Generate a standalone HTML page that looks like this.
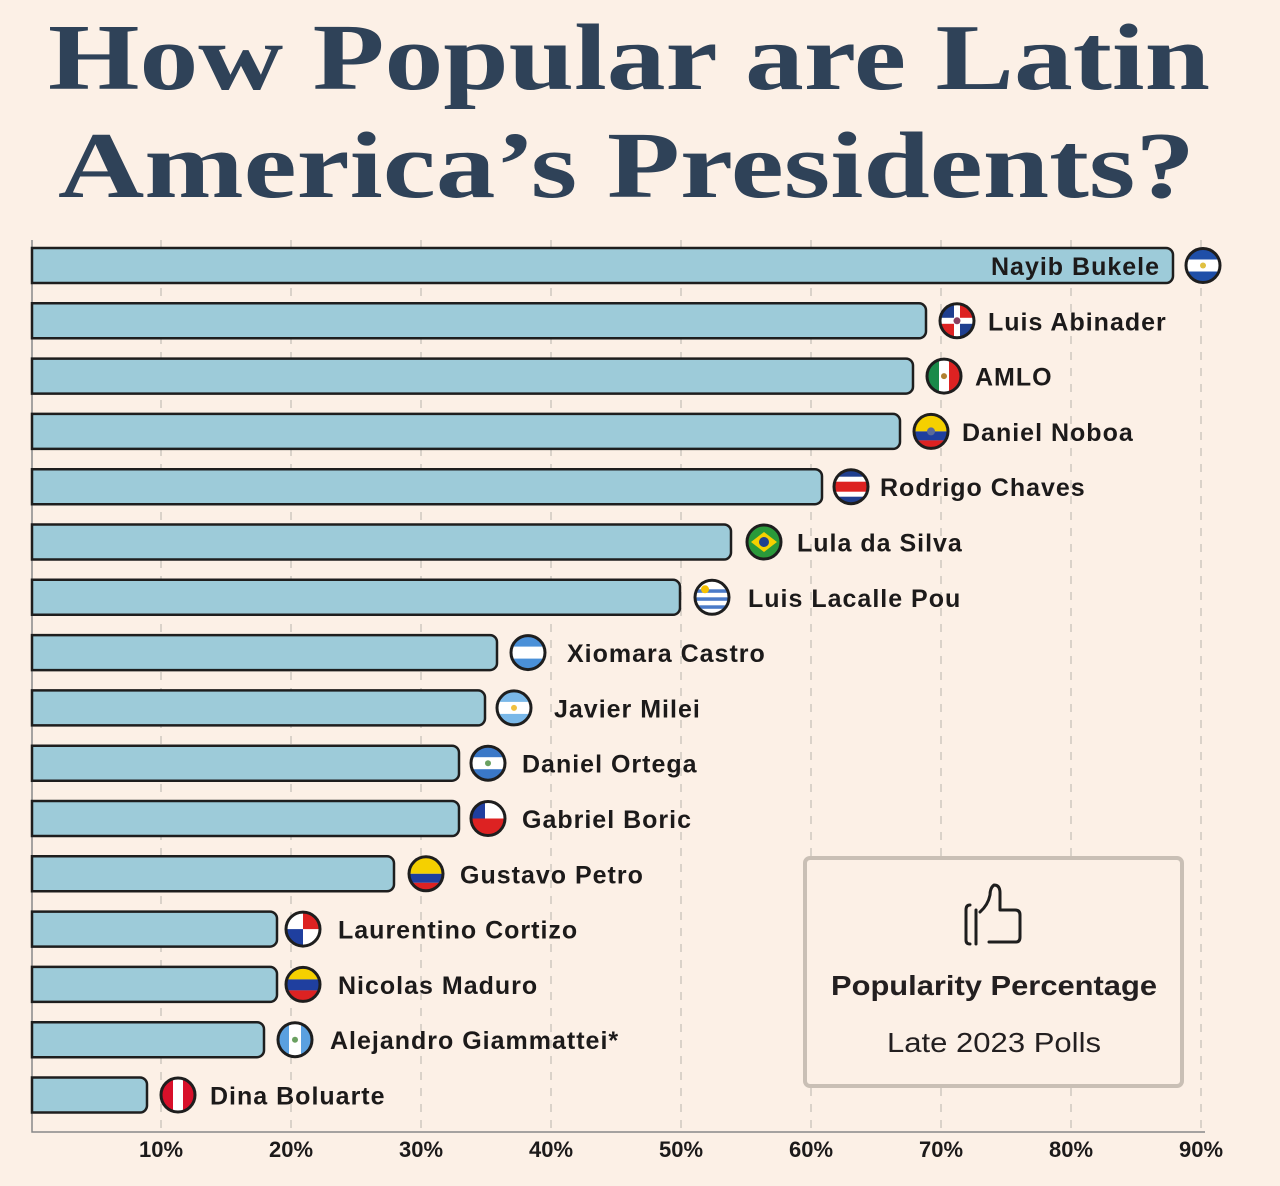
<!DOCTYPE html>
<html><head><meta charset="utf-8"><style>
html,body{margin:0;padding:0;background:#fcf0e6;}
svg{display:block;}
.t{font-family:"Liberation Serif",serif;font-weight:bold;fill:#2f4258;font-size:94px;}
.l{font-family:"Liberation Sans",sans-serif;font-weight:bold;fill:#1c1a1a;font-size:25px;letter-spacing:1px;}
.a{font-family:"Liberation Sans",sans-serif;font-weight:bold;fill:#1c1a1a;font-size:22px;text-anchor:middle;}
.b{fill:#9dcbd9;stroke:#1e1e1e;stroke-width:2.5;}
.fo{fill:none;stroke:#1e1e1e;stroke-width:3;}
</style></head><body>
<svg width="1280" height="1186" viewBox="0 0 1280 1186" xmlns="http://www.w3.org/2000/svg">
<rect width="1280" height="1186" fill="#fcf0e6"/>
<text class="t" x="48" y="89" textLength="1162" lengthAdjust="spacingAndGlyphs">How Popular are Latin</text>
<text class="t" x="58" y="197" textLength="1137" lengthAdjust="spacingAndGlyphs">America’s Presidents?</text>
<defs><clipPath id="c"><circle r="17"/></clipPath></defs>
<g stroke="#cfc7bf" stroke-width="1.5" stroke-dasharray="8 8">
<line x1="161" y1="240" x2="161" y2="1132"/><line x1="291" y1="240" x2="291" y2="1132"/><line x1="421" y1="240" x2="421" y2="1132"/><line x1="551" y1="240" x2="551" y2="1132"/><line x1="681" y1="240" x2="681" y2="1132"/><line x1="811" y1="240" x2="811" y2="1132"/><line x1="941" y1="240" x2="941" y2="1132"/><line x1="1071" y1="240" x2="1071" y2="1132"/><line x1="1201" y1="240" x2="1201" y2="1132"/>
</g>
<path d="M32 240 V1132 H1205" fill="none" stroke="#888" stroke-width="1.5"/>
<g>
<path class="b" d="M32 248 H1166 a7 7 0 0 1 7 7 V276 a7 7 0 0 1 -7 7 H32Z"/>
<path class="b" d="M32 303.3 H919 a7 7 0 0 1 7 7 V331.3 a7 7 0 0 1 -7 7 H32Z"/>
<path class="b" d="M32 358.6 H906 a7 7 0 0 1 7 7 V386.6 a7 7 0 0 1 -7 7 H32Z"/>
<path class="b" d="M32 413.9 H893 a7 7 0 0 1 7 7 V441.9 a7 7 0 0 1 -7 7 H32Z"/>
<path class="b" d="M32 469.2 H815 a7 7 0 0 1 7 7 V497.2 a7 7 0 0 1 -7 7 H32Z"/>
<path class="b" d="M32 524.5 H724 a7 7 0 0 1 7 7 V552.5 a7 7 0 0 1 -7 7 H32Z"/>
<path class="b" d="M32 579.8 H673 a7 7 0 0 1 7 7 V607.8 a7 7 0 0 1 -7 7 H32Z"/>
<path class="b" d="M32 635.1 H490 a7 7 0 0 1 7 7 V663.1 a7 7 0 0 1 -7 7 H32Z"/>
<path class="b" d="M32 690.4 H478 a7 7 0 0 1 7 7 V718.4 a7 7 0 0 1 -7 7 H32Z"/>
<path class="b" d="M32 745.7 H452 a7 7 0 0 1 7 7 V773.7 a7 7 0 0 1 -7 7 H32Z"/>
<path class="b" d="M32 801 H452 a7 7 0 0 1 7 7 V829 a7 7 0 0 1 -7 7 H32Z"/>
<path class="b" d="M32 856.3 H387 a7 7 0 0 1 7 7 V884.3 a7 7 0 0 1 -7 7 H32Z"/>
<path class="b" d="M32 911.6 H270 a7 7 0 0 1 7 7 V939.6 a7 7 0 0 1 -7 7 H32Z"/>
<path class="b" d="M32 966.9 H270 a7 7 0 0 1 7 7 V994.9 a7 7 0 0 1 -7 7 H32Z"/>
<path class="b" d="M32 1022.2 H257 a7 7 0 0 1 7 7 V1050.2 a7 7 0 0 1 -7 7 H32Z"/>
<path class="b" d="M32 1077.5 H140 a7 7 0 0 1 7 7 V1105.5 a7 7 0 0 1 -7 7 H32Z"/>
</g>
<!-- flags -->
<g transform="translate(1203,265.5)"><g clip-path="url(#c)"><rect x="-17" y="-17" width="34" height="34" fill="#1f4fa8"/><rect x="-17" y="-6" width="34" height="12" fill="#fff"/><circle r="3" fill="#e0c040"/></g><circle r="17" class="fo"/></g>
<g transform="translate(957,320.8)"><g clip-path="url(#c)"><rect x="-17" y="-17" width="17" height="17" fill="#1f3f8f"/><rect x="0" y="-17" width="17" height="17" fill="#d22"/><rect x="-17" y="0" width="17" height="17" fill="#d22"/><rect x="0" y="0" width="17" height="17" fill="#1f3f8f"/><rect x="-17" y="-3" width="34" height="6" fill="#fff"/><rect x="-3" y="-17" width="6" height="34" fill="#fff"/><circle r="3.5" fill="#8a4060"/></g><circle r="17" class="fo"/></g>
<g transform="translate(944,376.1)"><g clip-path="url(#c)"><rect x="-17" y="-17" width="12" height="34" fill="#1a8a4a"/><rect x="-5" y="-17" width="10" height="34" fill="#fff"/><rect x="5" y="-17" width="12" height="34" fill="#d22"/><circle r="3" fill="#b08030"/></g><circle r="17" class="fo"/></g>
<g transform="translate(931,431.4)"><g clip-path="url(#c)"><rect x="-17" y="-17" width="34" height="17" fill="#f5d000"/><rect x="-17" y="0" width="34" height="9" fill="#1f3f9f"/><rect x="-17" y="9" width="34" height="8" fill="#d22"/><circle r="4" fill="#5a6a9a"/></g><circle r="17" class="fo"/></g>
<g transform="translate(851,486.7)"><g clip-path="url(#c)"><rect x="-17" y="-17" width="34" height="34" fill="#1f3f8f"/><rect x="-17" y="-10" width="34" height="20" fill="#fff"/><rect x="-17" y="-5" width="34" height="10" fill="#d22"/></g><circle r="17" class="fo"/></g>
<g transform="translate(764,542)"><g clip-path="url(#c)"><rect x="-17" y="-17" width="34" height="34" fill="#2a9a3a"/><path d="M-13 0 L0 -10 L13 0 L0 10Z" fill="#f5d000"/><circle r="5" fill="#1f3f8f"/></g><circle r="17" class="fo"/></g>
<g transform="translate(712,597.3)"><g clip-path="url(#c)"><rect x="-17" y="-17" width="34" height="34" fill="#fff"/><rect x="-17" y="-8" width="34" height="3.5" fill="#4a7ac8"/><rect x="-17" y="0" width="34" height="3.5" fill="#4a7ac8"/><rect x="-17" y="8" width="34" height="3.5" fill="#4a7ac8"/><circle cx="-7" cy="-8" r="4" fill="#f5c000"/></g><circle r="17" class="fo"/></g>
<g transform="translate(528,652.6)"><g clip-path="url(#c)"><rect x="-17" y="-17" width="34" height="34" fill="#4a90d8"/><rect x="-17" y="-6" width="34" height="12" fill="#fff"/></g><circle r="17" class="fo"/></g>
<g transform="translate(514,707.9)"><g clip-path="url(#c)"><rect x="-17" y="-17" width="34" height="34" fill="#7ab8e8"/><rect x="-17" y="-6" width="34" height="12" fill="#fff"/><circle r="3" fill="#f0c040"/></g><circle r="17" class="fo"/></g>
<g transform="translate(488,763.2)"><g clip-path="url(#c)"><rect x="-17" y="-17" width="34" height="34" fill="#3a78c8"/><rect x="-17" y="-6" width="34" height="12" fill="#fff"/><circle r="3" fill="#6aa060"/></g><circle r="17" class="fo"/></g>
<g transform="translate(488,818.5)"><g clip-path="url(#c)"><rect x="-17" y="-17" width="34" height="17" fill="#fff"/><rect x="-17" y="-17" width="14" height="17" fill="#1f3fa0"/><rect x="-17" y="0" width="34" height="17" fill="#d22"/></g><circle r="17" class="fo"/></g>
<g transform="translate(426,873.8)"><g clip-path="url(#c)"><rect x="-17" y="-17" width="34" height="17" fill="#f5d000"/><rect x="-17" y="0" width="34" height="9" fill="#1f3f9f"/><rect x="-17" y="9" width="34" height="8" fill="#d22"/></g><circle r="17" class="fo"/></g>
<g transform="translate(303,929.1)"><g clip-path="url(#c)"><rect x="-17" y="-17" width="34" height="34" fill="#fff"/><rect x="0" y="-17" width="17" height="17" fill="#d22"/><rect x="-17" y="0" width="17" height="17" fill="#1f3f9f"/></g><circle r="17" class="fo"/></g>
<g transform="translate(303,984.4)"><g clip-path="url(#c)"><rect x="-17" y="-17" width="34" height="12" fill="#f5d000"/><rect x="-17" y="-5" width="34" height="11" fill="#1f3f9f"/><rect x="-17" y="6" width="34" height="11" fill="#d22"/></g><circle r="17" class="fo"/></g>
<g transform="translate(295,1039.7)"><g clip-path="url(#c)"><rect x="-17" y="-17" width="34" height="34" fill="#5aa0e0"/><rect x="-6" y="-17" width="12" height="34" fill="#fff"/><circle r="3" fill="#6aa060"/></g><circle r="17" class="fo"/></g>
<g transform="translate(178,1095)"><g clip-path="url(#c)"><rect x="-17" y="-17" width="34" height="34" fill="#d8102a"/><rect x="-5" y="-17" width="10" height="34" fill="#fff"/></g><circle r="17" class="fo"/></g>
<!-- labels -->
<text class="l" x="1160" y="275" text-anchor="end">Nayib Bukele</text>
<text class="l" x="988" y="330.3">Luis Abinader</text>
<text class="l" x="975" y="385.6">AMLO</text>
<text class="l" x="962" y="440.9">Daniel Noboa</text>
<text class="l" x="880" y="496.2">Rodrigo Chaves</text>
<text class="l" x="797" y="551.5">Lula da Silva</text>
<text class="l" x="748" y="606.8">Luis Lacalle Pou</text>
<text class="l" x="567" y="662.1">Xiomara Castro</text>
<text class="l" x="554" y="717.4">Javier Milei</text>
<text class="l" x="522" y="772.7">Daniel Ortega</text>
<text class="l" x="522" y="828">Gabriel Boric</text>
<text class="l" x="460" y="883.3">Gustavo Petro</text>
<text class="l" x="338" y="938.6">Laurentino Cortizo</text>
<text class="l" x="338" y="993.9">Nicolas Maduro</text>
<text class="l" x="330" y="1049.2">Alejandro Giammattei*</text>
<text class="l" x="210" y="1104.5">Dina Boluarte</text>
<!-- axis -->
<text class="a" x="161" y="1157">10%</text><text class="a" x="291" y="1157">20%</text><text class="a" x="421" y="1157">30%</text><text class="a" x="551" y="1157">40%</text><text class="a" x="681" y="1157">50%</text><text class="a" x="811" y="1157">60%</text><text class="a" x="941" y="1157">70%</text><text class="a" x="1071" y="1157">80%</text><text class="a" x="1201" y="1157">90%</text>
<!-- legend -->
<rect x="805" y="858" width="377" height="228" rx="5" fill="#fcf0e6" stroke="#c9bfb5" stroke-width="4"/>
<g fill="none" stroke="#1e1e1e" stroke-width="3" stroke-linecap="round" stroke-linejoin="round">
<path d="M970 905 Q966 905 966 910 V940 Q966 944 970 944"/>
<path d="M976 944 V910"/>
<path d="M989 942 H1016 Q1020 942 1020 937 V915 Q1020 910 1015 910 H1000 V893 Q1000 885 994 885 Q990 888 990 895 Q988 905 980 912"/>
</g>
<text x="994" y="995" text-anchor="middle" textLength="326" lengthAdjust="spacingAndGlyphs" style="font-family:'Liberation Sans',sans-serif;font-weight:bold;font-size:28px;fill:#231f20">Popularity Percentage</text>
<text x="994" y="1052" text-anchor="middle" textLength="214" lengthAdjust="spacingAndGlyphs" style="font-family:'Liberation Sans',sans-serif;font-size:28px;fill:#231f20">Late 2023 Polls</text>
</svg>
</body></html>
